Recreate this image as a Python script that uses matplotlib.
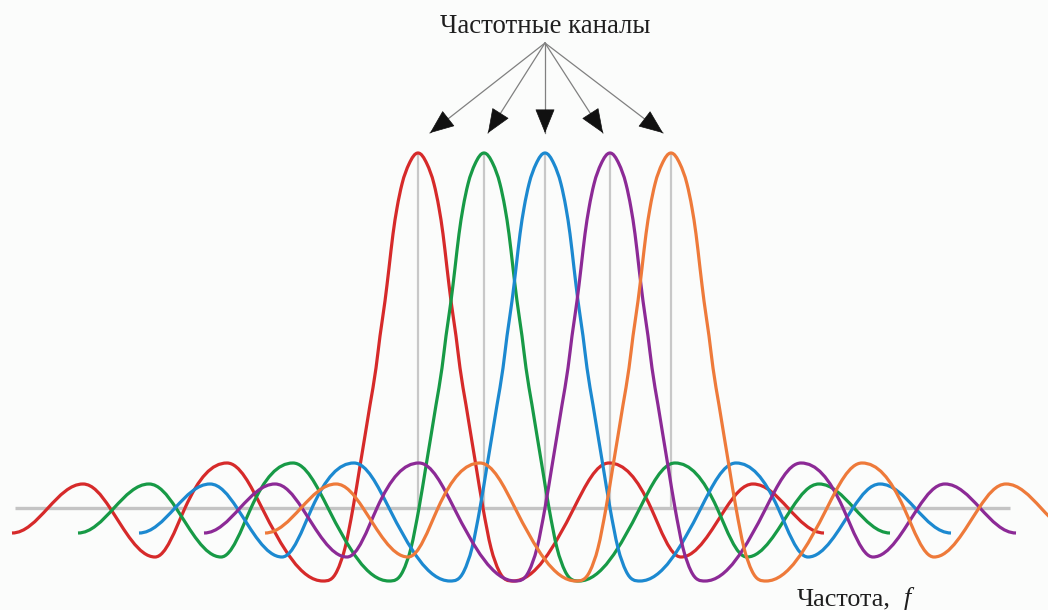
import numpy as np
import matplotlib
matplotlib.use("Agg")
import matplotlib.pyplot as plt
from matplotlib.path import Path
from matplotlib.patches import PathPatch, FancyArrowPatch

# ---------------- data (pixel-like units) ----------------
channel_names = ["red", "green", "blue", "purple", "orange"]
channel_centers = [418, 484, 545, 610, 671]          # centre frequency of each channel
channel_colors = ["#d62a2a", "#179a46", "#1c89d0", "#8c2a96", "#ee7a3a"]

# half profile of one channel response (offset from centre, amplitude)
profile_offset = [0, 9, 16, 21, 25, 29, 33, 38, 42, 48, 58, 65, 73, 81, 95,
                  156, 191, 233, 263, 308, 335, 370, 406]
profile_amp = [355, 344, 324, 300, 274, 240, 207, 172, 140, 103, 42, 0, -40, -63, -73,
               0, 45, 0, -49, 0, 24, 0, -25]

baseline_span = [15, 1010]
arrow_source = (545, 465)
arrow_tip_x = [430, 488, 545, 603, 663]
arrow_tip_y = 375

title_text = "Частотные каналы"
axis_text = "Частота,"
axis_symbol = "f"

# ---------------- helpers ----------------
def smooth_path(xs, ys):
    """Bezier path through the read points (horizontal tangents at extrema)."""
    xs = np.asarray(xs, float)
    ys = np.asarray(ys, float)
    n = len(xs)
    h = np.diff(xs)
    d = np.diff(ys) / h
    m = np.zeros(n)
    ext = np.zeros(n, bool)
    ext[0] = ext[-1] = True
    for i in range(1, n - 1):
        if d[i - 1] * d[i] <= 0:
            ext[i] = True
        else:
            m[i] = (d[i - 1] * h[i] + d[i] * h[i - 1]) / (h[i - 1] + h[i])
    for i in range(1, n - 1):
        if ys[i] == 0 and ext[i - 1] and ext[i + 1]:
            m[i] *= np.pi / 2          # sine-like crossing between two lobes
    verts = [(xs[0], ys[0])]
    codes = [Path.MOVETO]
    for i in range(n - 1):
        hh = h[i]
        k0 = 0.36 if ext[i] else 1 / 3
        k1 = 0.36 if ext[i + 1] else 1 / 3
        verts += [(xs[i] + hh * k0, ys[i] + m[i] * hh * k0),
                  (xs[i + 1] - hh * k1, ys[i + 1] - m[i + 1] * hh * k1),
                  (xs[i + 1], ys[i + 1])]
        codes += [Path.CURVE4] * 3
    return Path(verts, codes)

off = np.array(profile_offset, float)
amp = np.array(profile_amp, float)
full_off = np.concatenate([-off[::-1], off[1:]])
full_amp = np.concatenate([amp[::-1], amp[1:]])

# ---------------- figure ----------------
W, H = 1048, 610
fig = plt.figure(figsize=(W / 100, H / 100), dpi=100)
fig.patch.set_facecolor("#fbfcfb")
ax = fig.add_axes([0, 0, 1, 1])
ax.set_facecolor("#fbfcfb")
ax.set_xlim(0, W)
ax.set_ylim(-(H - 508), 508)
ax.axis("off")

# baseline
ax.plot(baseline_span, [0, 0], color="#c4c4c4", lw=2.4, solid_capstyle="butt", zorder=1)

# centre markers
ax.vlines(channel_centers, 0, profile_amp[0], color="#c8c8c8", lw=1.6, zorder=1)

# channel curves
for i, (c, col) in enumerate(zip(channel_centers, channel_colors)):
    p = smooth_path(c + full_off, full_amp)
    ax.add_patch(PathPatch(p, fill=False, edgecolor=col, lw=2.3,
                           capstyle="butt", joinstyle="round", zorder=3 + i))

# arrows
sx, sy = arrow_source
for tx in arrow_tip_x:
    ax.plot([sx, tx], [sy, arrow_tip_y], color="#808080", lw=0.9, zorder=2)
    vx, vy = tx - sx, arrow_tip_y - sy
    L = np.hypot(vx, vy)
    bx, by = tx - vx / L * 20, arrow_tip_y - vy / L * 20
    ax.add_patch(FancyArrowPatch((bx, by), (tx, arrow_tip_y),
                                 arrowstyle="-|>,head_length=16,head_width=6.5",
                                 mutation_scale=1, color="#111111", lw=0.5,
                                 shrinkA=0, shrinkB=0, zorder=10))

# texts
ax.text(545, 508 - 33, title_text, ha="center", va="baseline",
        family="Liberation Serif", fontsize=19.3, color="#1e1e1e")
ax.text(797, 508 - 605, axis_text, ha="left", va="baseline",
        family="Liberation Serif", fontsize=18.8, color="#1e1e1e")
ax.text(904, 508 - 605, axis_symbol, ha="left", va="baseline",
        family="Liberation Serif", style="italic", fontsize=18.8, color="#1e1e1e")

fig.savefig("out.png", dpi=100, facecolor=fig.get_facecolor())
